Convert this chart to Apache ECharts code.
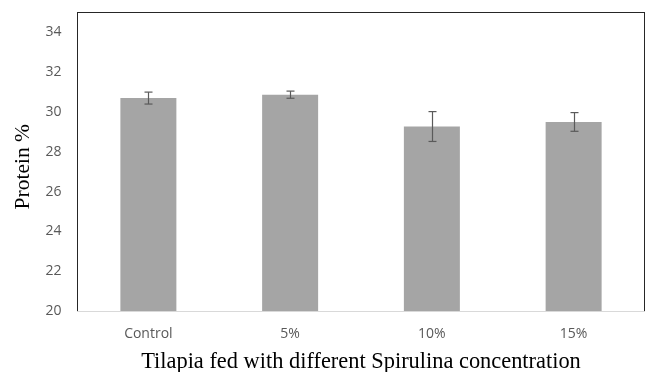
<!DOCTYPE html>
<html><head><meta charset="utf-8">
<script src="https://cdn.jsdelivr.net/npm/echarts@6/dist/echarts.min.js"></script>
<style>html,body{margin:0;padding:0;background:#fff}#c{width:646px;height:372px}</style>
</head><body><div id="c"></div>
<script>
const categories = ['Control', '5%', '10%', '15%'];
const proteinMean = [30.70, 30.87, 29.27, 29.50];
const proteinErr = [0.30, 0.18, 0.75, 0.47];
const yTicks = [20, 22, 24, 26, 28, 30, 32, 34];

const frameLine = { show: true, lineStyle: { color: '#262626', width: 1 } };
const chart = echarts.init(document.getElementById('c'));
chart.setOption({
  animation: false,
  grid: { left: 77.5, right: 1.5, top: 12.5, bottom: 61, outerBoundsMode: 'none', containLabel: false },
  xAxis: [{
    type: 'category', data: categories,
    name: 'Tilapia fed with different Spirulina concentration',
    nameLocation: 'middle', nameGap: 40,
    nameTextStyle: { fontFamily: 'Liberation Serif', fontSize: 22.4, color: '#000' },
    axisLine: { show: true, lineStyle: { color: '#d9d9d9', width: 1 } },
    axisTick: { show: false },
    axisLabel: { margin: 16, fontFamily: 'Open Sans', fontSize: 14, color: '#595959' },
    z: 5
  }, {
    type: 'category', data: categories, position: 'top',
    axisLine: frameLine, axisTick: { show: false }, axisLabel: { show: false }
  }],
  yAxis: [{
    type: 'value', min: yTicks[0], max: 35, interval: 2,
    name: 'Protein %', nameLocation: 'middle', nameGap: 41,
    nameTextStyle: { fontFamily: 'Liberation Serif', fontSize: 21.5, color: '#000', padding: [0, 10, 0, 0] },
    axisLine: frameLine, axisTick: { show: false }, splitLine: { show: false },
    axisLabel: { margin: 16, fontFamily: 'Open Sans', fontSize: 14, color: '#595959', showMaxLabel: false,
      formatter: v => (yTicks.indexOf(v) >= 0 ? String(v) : '') }
  }, {
    type: 'value', min: yTicks[0], max: 35, interval: 2, position: 'right',
    axisLine: frameLine, axisTick: { show: false }, splitLine: { show: false }, axisLabel: { show: false }
  }],
  series: [
    { type: 'bar', data: proteinMean, barWidth: 56, itemStyle: { color: '#a5a5a5' }, z: 2 },
    {
      type: 'custom', z: 3,
      data: proteinMean.map((m, i) => [i, m - proteinErr[i], m + proteinErr[i]]),
      renderItem: function (params, api) {
        const lo = api.coord([api.value(0), api.value(1)]);
        const hi = api.coord([api.value(0), api.value(2)]);
        const x = Math.round(lo[0]) + 0.5;
        const hw = 4;
        const st = { stroke: '#5a5a5a', lineWidth: 1.2 };
        return { type: 'group', children: [
          { type: 'line', shape: { x1: x, y1: hi[1], x2: x, y2: lo[1] }, style: st },
          { type: 'line', shape: { x1: x - hw, y1: hi[1], x2: x + hw, y2: hi[1] }, style: st },
          { type: 'line', shape: { x1: x - hw, y1: lo[1], x2: x + hw, y2: lo[1] }, style: st }
        ] };
      }
    }
  ]
});
</script></body></html>
